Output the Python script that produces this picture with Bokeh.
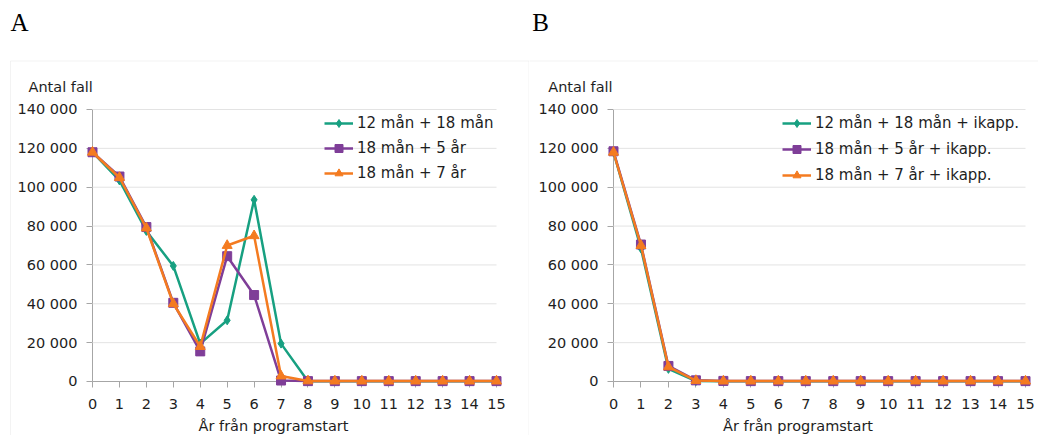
from bokeh.plotting import figure
from bokeh.layouts import row
from bokeh.models import (Range1d, Label, BoxAnnotation, Legend,
                          LegendItem, FixedTicker)
from bokeh.embed import file_html
from bokeh.resources import INLINE

# ---------------- data ----------------
years = list(range(16))
x_tick_labels = [str(v) for v in years]
y_ticks = [0, 20000, 40000, 60000, 80000, 100000, 120000, 140000]
y_tick_labels = ["0", "20 000", "40 000", "60 000", "80 000",
                 "100 000", "120 000", "140 000"]

names_a = ["12 mån + 18 mån", "18 mån + 5 år", "18 mån + 7 år"]
a_12m_18m = [118000, 103500, 77500, 59500, 19500, 31500, 93500, 19500,
             100, 100, 100, 100, 100, 100, 100, 100]
a_18m_5y = [118000, 105500, 79500, 40500, 15500, 64500, 44500, 500,
            200, 200, 200, 200, 200, 200, 200, 200]
a_18m_7y = [118000, 105000, 79000, 40000, 18000, 70000, 75000, 2800,
            300, 200, 200, 200, 200, 200, 200, 200]

names_b = ["12 mån + 18 mån + ikapp.", "18 mån + 5 år + ikapp.",
           "18 mån + 7 år + ikapp."]
b_12m_18m = [118000, 68500, 6500, 200, 100, 100, 100, 100,
             100, 100, 100, 100, 100, 100, 100, 100]
b_18m_5y = [118500, 70500, 8000, 600, 300, 200, 200, 200,
            200, 200, 200, 200, 200, 200, 200, 200]
b_18m_7y = [118000, 70000, 7500, 500, 200, 200, 200, 200,
            200, 200, 200, 200, 200, 200, 200, 200]

colors = ["#17a081", "#7f3e98", "#f47b20"]
markers = ["diamond", "square", "triangle"]
marker_sizes = [9, 9, 10]

FONT = "DejaVu Sans"
TEXT = "#1e1e1e"


def panel(letter, names, series, width, x_range, box_lr, letter_x,
          legend_loc, legend_spacing):
    p = figure(width=width, height=435, title=None,
               min_border=0, min_border_left=0, min_border_right=0,
               min_border_top=0, min_border_bottom=0,
               x_range=x_range, y_range=Range1d(-27794, 196100),
               output_backend="svg", toolbar_location=None,
               background_fill_color="white", border_fill_color="white")
    p.outline_line_color = None
    p.grid.visible = False

    # outer panel box
    p.add_layout(BoxAnnotation(left=box_lr[0], right=box_lr[1],
                               top=164960, bottom=-60000,
                               fill_alpha=0, line_color="#d6d6d6",
                               line_width=1, level="underlay"))

    # horizontal gridlines from the tick list
    p.segment(x0=years[0], x1=years[-1], y0=y_ticks[1:], y1=y_ticks[1:],
              line_color="#e3e3e3", line_width=1)

    # axes at data zero
    p.xaxis.fixed_location = 0
    p.yaxis.fixed_location = 0
    p.xaxis.bounds = (years[0], years[-1])
    p.yaxis.bounds = (y_ticks[0], y_ticks[-1])
    p.xaxis.ticker = FixedTicker(ticks=years)
    p.xaxis.major_label_overrides = {v: l for v, l in zip(years, x_tick_labels)}
    p.yaxis.ticker = FixedTicker(ticks=y_ticks)
    p.yaxis.major_label_overrides = {v: l for v, l in zip(y_ticks, y_tick_labels)}
    for ax in (p.xaxis[0], p.yaxis[0]):
        ax.level = "underlay"
        ax.axis_line_color = "#a6a6a6"
        ax.axis_line_width = 1
        ax.minor_tick_line_color = None
        ax.major_tick_line_color = "#a6a6a6"
        ax.major_tick_in = 0
        ax.major_tick_out = 6
        ax.major_label_text_font = FONT
        ax.major_label_text_font_size = "14.5px"
        ax.major_label_text_color = TEXT
    p.yaxis.major_label_standoff = 9
    p.xaxis.major_label_standoff = 12

    items = []
    for name, ys, c, m, s in zip(names, series, colors, markers, marker_sizes):
        ln = p.line(years, ys, line_color=c, line_width=2.5)
        sc = p.scatter(years, ys, marker=m, size=s, fill_color=c,
                       line_color=c)
        items.append(LegendItem(label=name, renderers=[ln, sc]))

    legend = Legend(items=items, location=legend_loc)
    legend.label_text_font = FONT
    legend.label_text_font_size = "15px"
    legend.label_text_color = TEXT
    legend.glyph_width = 29
    legend.glyph_height = 20
    legend.label_height = 20
    legend.spacing = legend_spacing
    legend.padding = 0
    legend.margin = 0
    legend.label_standoff = 4
    legend.background_fill_alpha = 0
    legend.border_line_alpha = 0
    p.add_layout(legend)

    p.add_layout(Label(x=letter_x, y=185030, text=letter,
                       text_font="Liberation Serif", text_font_size="25px",
                       text_color="black", text_align="left",
                       text_baseline="middle"))
    p.add_layout(Label(x=-2.376, y=151830, text="Antal fall",
                       text_font=FONT, text_font_size="14.5px",
                       text_color=TEXT, text_align="left",
                       text_baseline="middle"))
    p.add_layout(Label(x=6.72, y=-22904, text="År från programstart",
                       text_font=FONT, text_font_size="14.5px",
                       text_color=TEXT, text_align="center",
                       text_baseline="middle"))
    return p


pa = panel("A", names_a, [a_12m_18m, a_18m_5y, a_18m_7y], 529,
           Range1d(-3.416, 16.225), (-3.045, 16.207), -3.045, (324, 252), 5)
pb = panel("B", names_b, [b_12m_18m, b_18m_5y, b_18m_7y], 509,
           Range1d(-3.058, 15.473), (-5.0, 20.0), -2.96, (253, 250), 6)

layout = row(pa, pb, spacing=0)
open("out.html", "w").write(file_html(layout, INLINE))
